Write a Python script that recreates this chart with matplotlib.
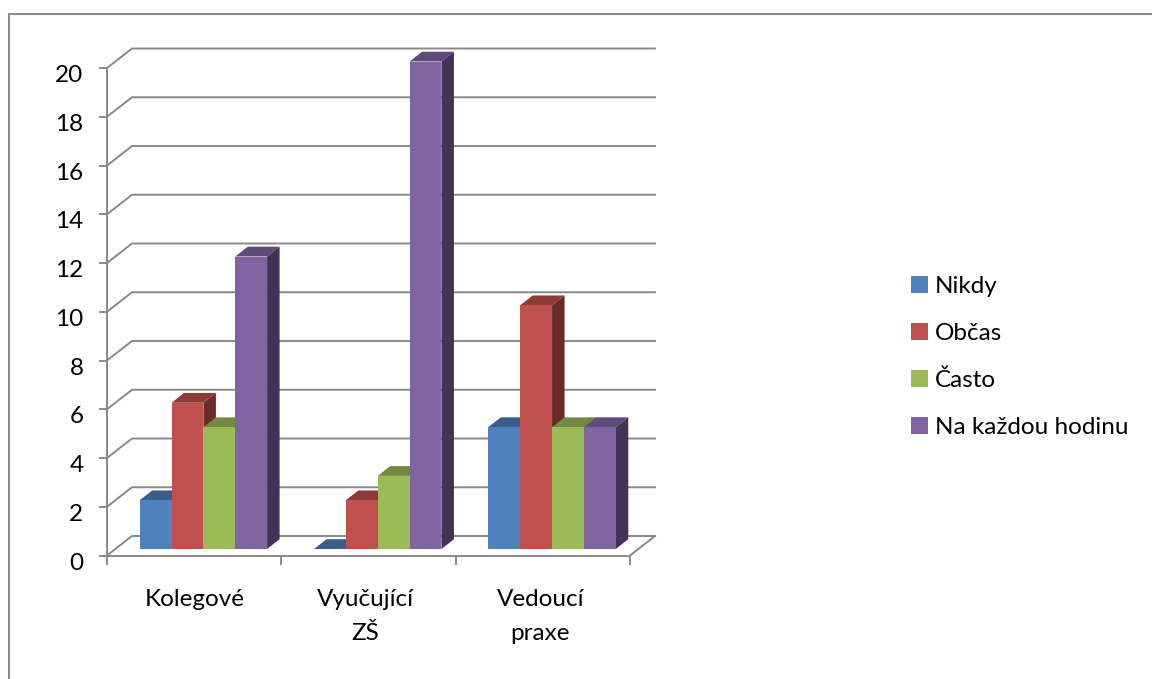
import matplotlib
matplotlib.use("Agg")
import matplotlib.pyplot as plt
from matplotlib.patches import Polygon, Patch
from matplotlib.transforms import ScaledTranslation

plt.rcParams["font.family"] = ["Lato", "DejaVu Sans"]

categories = ["Kolegové", "Vyučující\nZŠ", "Vedoucí\npraxe"]
series_names = ["Nikdy", "Občas", "Často", "Na každou hodinu"]
nikdy = [2, 0, 5]
obcas = [6, 2, 10]
casto = [5, 3, 5]
kazdou = [12, 20, 5]
series_values = [nikdy, obcas, casto, kazdou]
y_ticks = list(range(0, 21, 2))

front_colors = ["#4F81BD", "#C0504D", "#9BBB59", "#8064A2"]
top_colors = ["#385D8A", "#8E3A38", "#73893F", "#5F4A7A"]
side_colors = ["#2C4A6E", "#692A28", "#55662E", "#423356"]
LINE = "#898989"
FONT_SIZE = 17.5

W, H = 1152, 679
fig = plt.figure(figsize=(W / 100, H / 100), dpi=100)
fig.patch.set_facecolor("white")

# Plot area: one category is one x unit, one y unit is one chart value
x0, x1, ybot, ytop = 107, 630, 555.5, 68
ax = fig.add_axes([x0 / W, 1 - ybot / H, (x1 - x0) / W, (ybot - ytop) / H])
ax.set_xlim(0, 3)
ax.set_ylim(0, 20)
ax.patch.set_alpha(0)

px_x = (x1 - x0) / 3
px_y = (ybot - ytop) / 20
wall_dx, wall_dy = 25 / px_x, 19.5 / px_y
depth_dx, depth_dy = 12.5 / px_x, 9.8 / px_y
base_y = 6.5 / px_y
bar_w = 31.85 / px_x
group_left = 32.7 / px_x

# Back wall gridlines and the slanted left wall / floor edges
for t in y_ticks:
    ax.plot([0, wall_dx, 3 + wall_dx], [t, t + wall_dy, t + wall_dy],
            color=LINE, lw=1.4, clip_on=False, zorder=1, solid_joinstyle="miter")
ax.plot([3, 3 + wall_dx], [0, wall_dy], color=LINE, lw=1.4, clip_on=False, zorder=1)

# Bars: each one is top face, side face and front face, drawn left to right
z = 2
for g in range(len(categories)):
    for s, vals in enumerate(series_values):
        v = vals[g]
        l = g + group_left + s * bar_w
        r = l + bar_w
        b = base_y
        t = base_y + v
        top = [(l, t), (r, t), (r + depth_dx, t + depth_dy), (l + depth_dx, t + depth_dy)]
        side = [(r, b), (r + depth_dx, b + depth_dy), (r + depth_dx, t + depth_dy), (r, t)]
        front = [(l, b), (r, b), (r, t), (l, t)]
        ax.add_patch(Polygon(top, closed=True, fc=top_colors[s], ec="none", zorder=z, clip_on=False))
        ax.add_patch(Polygon(side, closed=True, fc=side_colors[s], ec="none", zorder=z, clip_on=False))
        ax.add_patch(Polygon(front, closed=True, fc=front_colors[s], ec="none", zorder=z, clip_on=False))
        z += 1

for name in ("top", "right"):
    ax.spines[name].set_visible(False)
for name in ("left", "bottom"):
    ax.spines[name].set_color(LINE)
    ax.spines[name].set_linewidth(1.4)

ax.set_yticks(y_ticks)
ax.set_xticks([0, 1, 2, 3])
ax.set_xticklabels([])
ax.tick_params(axis="y", length=6, width=1.4, color=LINE, labelsize=FONT_SIZE, pad=11, labelcolor="black")
ax.tick_params(axis="x", length=6.5, width=1.4, color=LINE)

# Tick numbers sit slightly below their tick marks
shift = ScaledTranslation(0, -4 / 72, fig.dpi_scale_trans)
for label in ax.get_yticklabels():
    label.set_transform(label.get_transform() + shift)

# Category labels sit under each group
label_x = [0.505, 1.48, 2.485]
for xpos, cat in zip(label_x, categories):
    ax.text(xpos, -1.36, cat, ha="center", va="top", fontsize=FONT_SIZE, linespacing=1.78,
            color="black", clip_on=False)

handles = [Patch(facecolor=c, edgecolor="none", label=n) for c, n in zip(front_colors, series_names)]
fig.legend(handles=handles, loc="center left", bbox_to_anchor=(911 / W, 1 - 357 / H),
           frameon=False, fontsize=FONT_SIZE, handlelength=0.7, handleheight=0.7,
           handletextpad=0.27, labelspacing=1.06, borderpad=0, borderaxespad=0)

# Chart frame: only the top and left edges fall inside the canvas
fig.add_artist(plt.Line2D([9 / W, 9 / W, 1], [0, 1 - 14 / H, 1 - 14 / H],
                          color=LINE, lw=1.5, transform=fig.transFigure))

fig.savefig("out.png", dpi=100)
